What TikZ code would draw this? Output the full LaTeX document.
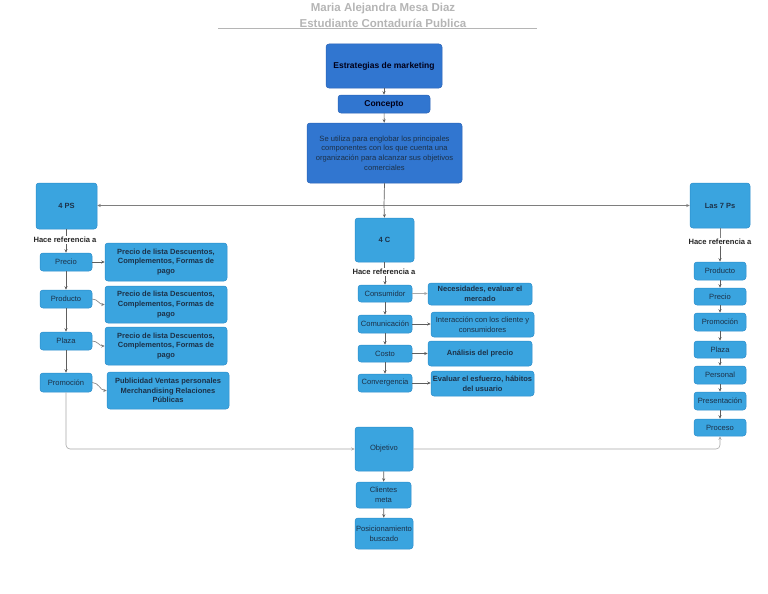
\documentclass[tikz,border=0pt]{standalone}
\usepackage{fontspec}
\setmainfont{Liberation Sans}
\usetikzlibrary{arrows.meta}
\definecolor{darkbox}{HTML}{3176D0}
\definecolor{darkedge}{HTML}{2A63B5}
\definecolor{lightbox}{HTML}{3AA4DF}
\definecolor{lightedge}{HTML}{2B8CCB}
\definecolor{txt}{HTML}{1C3148}
\definecolor{titlegray}{HTML}{B5B5B5}
\definecolor{linegray}{HTML}{5E5E5E}
\definecolor{palegray}{HTML}{A8A8A8}
\newcommand\bx[7]{\node[#6, minimum width={(#4-#2)*1pt}, minimum height={(#5-#3)*1pt}] (#1) at ({(#2+#4)/2},{-(#3+#5)/2}) {#7};}
\tikzset{
  dbox/.style={draw=darkedge, fill=darkbox, rounded corners=3pt, line width=0.5pt, inner sep=1pt, align=center, text=txt},
  lbox/.style={draw=lightedge, fill=lightbox, rounded corners=3pt, line width=0.5pt, inner sep=1pt, align=center, text=txt},
  fs/.style={font=\fontsize{7.6}{9.6}\selectfont},
  fsb/.style={font=\fontsize{7.5}{9.6}\selectfont\bfseries},
  conn/.style={draw=linegray, line width=0.7pt, -{Stealth[length=3.5pt,width=3pt]}},
  plain/.style={draw=linegray, line width=0.7pt},
  pale/.style={draw=palegray, line width=0.6pt, -{Stealth[length=3.5pt,width=3pt]}},
  lbl/.style={fill=white, inner sep=1pt, font=\fontsize{7.6}{8}\selectfont\bfseries, text=black!85},
}
\begin{document}
\begin{tikzpicture}[x=1pt,y=1pt]
\useasboundingbox (0,0) rectangle (768,-594);
% title
\node[font=\fontsize{11.5}{13}\selectfont\bfseries, text=titlegray] (t1) at (383,-9) {Maria Alejandra Mesa Diaz};
\node[font=\fontsize{11.5}{13}\selectfont\bfseries, text=titlegray] (t2) at (383,-23.5) {Estudiante Contaduría Publica};
\coordinate (ul1) at (218,-28.5);
\coordinate (ul2) at (537,-28.5);
\draw[titlegray, line width=0.8pt] (ul1) -- (ul2);
% top column
\bx{estr}{326}{44}{442}{88}{dbox,font=\fontsize{8.5}{10}\selectfont\bfseries,text=black!90!blue}{Estrategias de marketing}
\bx{conc}{338}{95}{430}{113}{dbox,font=\fontsize{8.5}{10}\selectfont\bfseries,text=black!90!blue}{Concepto}
\bx{desc}{307}{123}{462}{183}{dbox,fs}{Se utiliza para englobar los principales\\componentes con los que cuenta una\\organización para alcanzar sus objetivos\\comerciales}
\draw[conn] (estr) -- (conc);
\draw[conn] (conc) -- (desc);
% three branches
\bx{fourps}{36}{183}{97}{229}{lbox,fsb}{4 PS}
\bx{fourc}{355}{218}{414}{262}{lbox,fsb}{4 C}
\bx{sevenps}{690}{183}{750}{228}{lbox,fsb}{Las 7 Ps}
\coordinate (j) at (384,-205.5);
\draw[plain] (desc.south) -- (j);
\draw[conn,draw=linegray!80] (j) -- (fourps.east |- j);
\draw[conn,draw=linegray!80] (j) -- (sevenps.west |- j);
\draw[conn] (j) -- (fourc.north);
% 4 PS column
\node[lbl] (lbl1) at (65,-240) {Hace referencia a};
\bx{precio}{40}{253}{92}{271}{lbox,fs}{Precio}
\bx{producto}{40}{290}{92}{308}{lbox,fs}{Producto}
\bx{plaza}{40}{332}{92}{350}{lbox,fs}{Plaza}
\bx{promo}{40}{373}{92}{392}{lbox,fs}{Promoción}
\draw[plain] (fourps.south) -- (lbl1.north -| fourps.south);
\draw[conn] (lbl1.south -| precio.north) -- (precio.north);
\draw[conn] (precio) -- (producto);
\draw[conn] (producto) -- (plaza);
\draw[conn] (plaza) -- (promo);
\bx{da}{105}{243}{227}{281}{lbox,fsb}{Precio de lista Descuentos,\\Complementos, Formas de\\pago}
\bx{db}{105}{286}{227}{323}{lbox,fsb}{Precio de lista Descuentos,\\Complementos, Formas de\\pago}
\bx{dc}{105}{327}{227}{365}{lbox,fsb}{Precio de lista Descuentos,\\Complementos, Formas de\\pago}
\bx{dd}{107}{372}{229}{409}{lbox,fsb}{Publicidad Ventas personales\\Merchandising Relaciones\\Públicas}
\draw[conn] (precio.east) -- (da.west |- precio.east);
\draw[pale,draw=linegray!80] (producto.east) to[out=0,in=180] (db.west);
\draw[pale,draw=linegray!80] (plaza.east) to[out=0,in=180] (dc.west);
\draw[pale,draw=linegray!80] (promo.east) to[out=0,in=180] (dd.west);
% 4 C column
\node[lbl] (lbl2) at (384,-272) {Hace referencia a};
\bx{cons}{358}{285}{412}{302}{lbox,fs}{Consumidor}
\bx{comu}{358}{315}{412}{333}{lbox,fs}{Comunicación}
\bx{costo}{358}{345}{412}{362}{lbox,fs}{Costo}
\bx{conv}{358}{374}{412}{392}{lbox,fs}{Convergencia}
\draw[plain] (fourc.south) -- (lbl2.north -| fourc.south);
\draw[conn] (lbl2.south -| cons.north) -- (cons.north);
\draw[conn] (cons) -- (comu);
\draw[conn] (comu) -- (costo);
\draw[conn] (costo) -- (conv);
\bx{ca}{428}{283}{532}{305}{lbox,fsb}{Necesidades, evaluar el\\mercado}
\bx{cb}{431}{312}{534}{337}{lbox,fs}{Interacción con los cliente y\\consumidores}
\bx{cc}{428}{341}{532}{366}{lbox,fsb}{Análisis del precio}
\bx{cd}{431}{371}{534}{396}{lbox,fsb}{Evaluar el esfuerzo, hábitos\\del usuario}
\draw[pale] (cons.east) -- (ca.west |- cons.east);
\draw[conn] (comu.east) -- (cb.west |- comu.east);
\draw[conn] (costo.east) -- (cc.west |- costo.east);
\draw[conn] (conv.east) -- (cd.west |- conv.east);
% 7 Ps column
\node[lbl] (lbl3) at (720,-242) {Hace referencia a};
\bx{sa}{694}{262}{746}{280}{lbox,fs}{Producto}
\bx{sb}{694}{288}{746}{305}{lbox,fs}{Precio}
\bx{sc}{694}{313}{746}{331}{lbox,fs}{Promoción}
\bx{sd}{694}{341}{746}{358}{lbox,fs}{Plaza}
\bx{se}{694}{366}{746}{384}{lbox,fs}{Personal}
\bx{sf}{694}{392}{746}{410}{lbox,fs}{Presentación}
\bx{sg}{694}{419}{746}{436}{lbox,fs}{Proceso}
\draw[plain,draw=linegray!80] (sevenps.south) -- (lbl3.north -| sevenps.south);
\draw[conn] (lbl3.south -| sa.north) -- (sa.north);
\draw[conn] (sa) -- (sb);
\draw[conn] (sb) -- (sc);
\draw[conn] (sc) -- (sd);
\draw[conn] (sd) -- (se);
\draw[conn] (se) -- (sf);
\draw[conn] (sf) -- (sg);
% bottom column
\bx{obj}{355}{427}{413}{471}{lbox,fs}{Objetivo}
\bx{cli}{356}{482}{411}{508}{lbox,fs}{Clientes\\meta}
\bx{pos}{355}{518}{413}{549}{lbox,fs}{Posicionamiento\\buscado}
\draw[pale, rounded corners=4pt] (promo.south) |- (obj.west);
\draw[pale, rounded corners=4pt] (obj.east) -| (sg.south);
\draw[conn] (obj) -- (cli);
\draw[conn] (cli) -- (pos);
\end{tikzpicture}
\end{document}
